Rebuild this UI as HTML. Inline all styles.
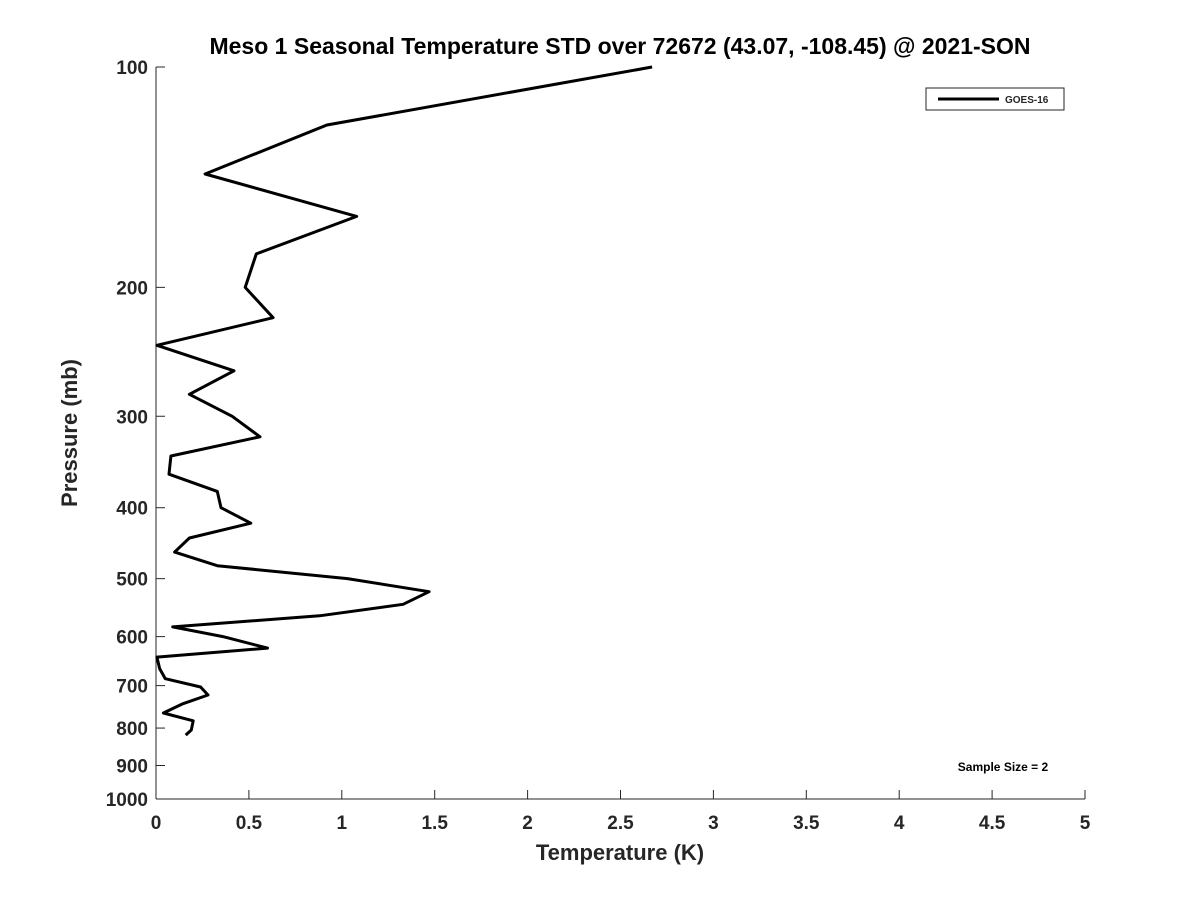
<!DOCTYPE html>
<html><head><meta charset="utf-8"><style>
body{margin:0;background:#fff;}
svg text{font-family:"Liberation Sans","DejaVu Sans",sans-serif;font-weight:bold;fill:#262626;}
</style></head><body>
<svg width="1200" height="900" xmlns="http://www.w3.org/2000/svg">
<rect width="1200" height="900" fill="#fff"/>
<text x="620" y="54" text-anchor="middle" font-size="23" style="fill:#000">Meso 1 Seasonal Temperature STD over 72672 (43.07, -108.45) @ 2021-SON</text>
<g id="axes"></g>
<path id="line" fill="none" stroke="#000" stroke-width="3" stroke-linejoin="round"/>
<g>
<rect x="926" y="88" width="138" height="22" fill="#fff" stroke="#262626" stroke-width="1"/>
<line x1="938" y1="99" x2="999" y2="99" stroke="#000" stroke-width="3"/>
<text x="1005" y="103" font-size="10">GOES-16</text>
</g>
<text x="1003" y="771" text-anchor="middle" font-size="12" style="fill:#000">Sample Size = 2</text>
<text x="620" y="860" text-anchor="middle" font-size="22">Temperature (K)</text>
<text transform="translate(77,433) rotate(-90)" text-anchor="middle" font-size="22">Pressure (mb)</text>
</svg>
<script>
const temps=[2.67,0.92,0.264,1.08,0.54,0.48,0.63,0.005,0.42,0.18,0.41,0.56,0.08,0.07,0.33,0.35,0.51,0.18,0.1,0.33,1.03,1.47,1.33,0.88,0.09,0.36,0.6,0.005,0.02,0.05,0.24,0.28,0.14,0.04,0.2,0.19,0.16];
const pressures=[100,120,140,160,180,200,220,240,260,280,300,320,340,360,380,400,420,440,460,480,500,521,542,562,582,600,622,640,664,685,703,721,742,763,782,805,818];
const xTicks=[0,0.5,1,1.5,2,2.5,3,3.5,4,4.5,5];
const xTickLabels=["0","0.5","1","1.5","2","2.5","3","3.5","4","4.5","5"];
const yTicks=[100,200,300,400,500,600,700,800,900,1000];
const X0=156,X1=1085,Y0=67,Y1=799;
const xs=v=>X0+(v-0)/(5-0)*(X1-X0);
const ys=p=>Y0+(Math.log10(p)-2)*(Y1-Y0);
const NS="http://www.w3.org/2000/svg";
const ax=document.getElementById('axes');
function mk(t,a){const e=document.createElementNS(NS,t);for(const k in a)e.setAttribute(k,a[k]);ax.appendChild(e);return e;}
const xl=mk('line',{x1:X0,y1:Y1,x2:X1,y2:Y1,stroke:'#262626','stroke-width':1});


const yl=mk('line',{x1:X0,y1:Y0,x2:X0,y2:Y1,stroke:'#262626','stroke-width':1});


xTicks.forEach((v,i)=>{
 mk('line',{x1:xs(v),y1:Y1,x2:xs(v),y2:Y1-9,stroke:'#262626'});
 const t=mk('text',{x:xs(v),y:Y1+30,'text-anchor':'middle','font-size':19});
 t.textContent=xTickLabels[i];
 
 
});
yTicks.forEach(p=>{
 mk('line',{x1:X0,y1:ys(p),x2:X0+9,y2:ys(p),stroke:'#262626'});
 const t=mk('text',{x:X0-8,y:ys(p)+7,'text-anchor':'end','font-size':19});
 t.textContent=String(p);
 
 
});
document.getElementById('line').setAttribute('d',temps.map((v,i)=>(i?'L':'M')+xs(v).toFixed(1)+','+ys(pressures[i]).toFixed(1)).join(''));
</script>
</body></html>
